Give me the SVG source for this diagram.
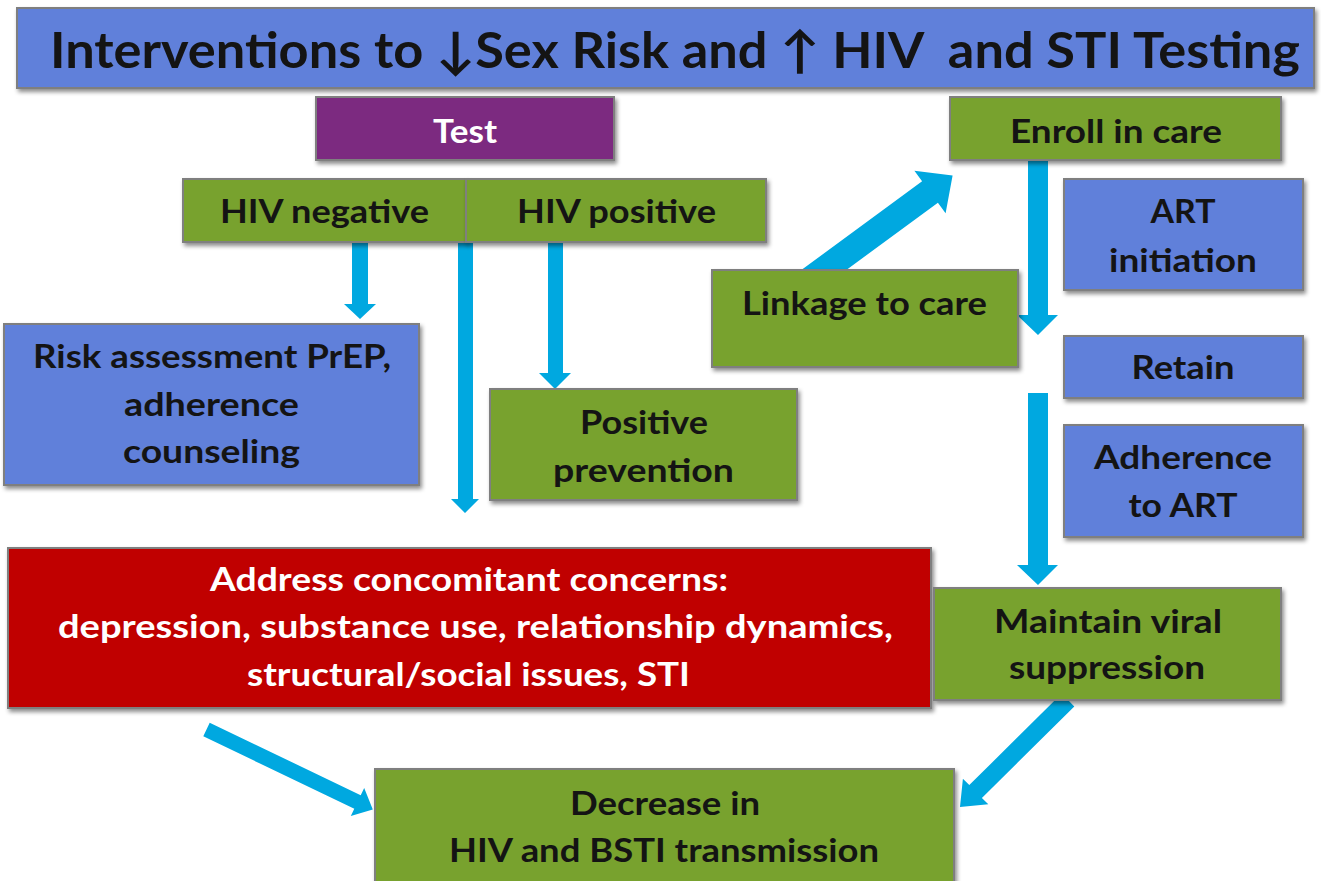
<svg xmlns="http://www.w3.org/2000/svg" width="1321" height="881" viewBox="0 0 1321 881">
<defs>
<filter id="sh" x="-5%" y="-5%" width="110%" height="120%">
<feDropShadow dx="2" dy="3" stdDeviation="2" flood-color="#000" flood-opacity="0.45"/>
</filter>
<style>
.box{stroke:#7F7F7F;stroke-width:2;filter:url(#sh)}
.blue{fill:#6180DA}
.green{fill:#78A22F}
.purple{fill:#7B2C80}
.red{fill:#C00000}
.t{font-family:Lato,"Noto Sans","Liberation Sans",sans-serif;font-weight:700;font-size:33px;fill:#141414;text-anchor:middle}
.w{fill:#FFFFFF}
.arr{fill:#00A8E0}
</style>
</defs>
<rect width="1321" height="881" fill="#FFFFFF"/>

<g id="connectors">
<polygon class="arr" points="352,242 368,242 368,304 376,304 360,319 344,304 352,304"/>
<polygon class="arr" points="458,242 473,242 473,499 479,499 465,513 451,499 458,499"/>
<polygon class="arr" points="548,242 563,242 563,373 571,373 555,389 539,373 548,373"/>
<polygon class="arr" points="1028,158 1048,158 1048,315 1058,315 1038,335 1017,315 1028,315"/>
<polygon class="arr" points="1028,393 1048,393 1048,565 1058,565 1038,585 1017,565 1028,565"/>
<polygon class="arr" points="788.7,279.3 922.1,181.3 914.4,170.7 952.6,175.4 945.6,213.3 937.9,202.7 804.5,300.7"/>
<polygon class="arr" points="209.7,722.7 360.7,795.2 364.2,788 372.8,809.4 350.8,816 354.3,808.8 203.3,736.3"/>
<polygon class="arr" points="1074.3,706.4 981.9,797.9 988.3,804.3 960,807 962.9,778.7 969.3,785.1 1061.7,693.6"/>
</g>

<g id="title">
<rect class="box blue" x="17" y="8" width="1297" height="80"/>
<text class="t" x="50" y="68" style="font-size:50px;text-anchor:start" textLength="1250" lengthAdjust="spacingAndGlyphs" xml:space="preserve">Interventions to ↓Sex Risk and ↑ HIV  and STI Testing</text>
</g>

<g id="test">
<rect class="box purple" x="316" y="97" width="298" height="63"/>
<text class="t w" x="465" y="143" textLength="64" lengthAdjust="spacingAndGlyphs">Test</text>
</g>

<g id="hiv-negative">
<rect class="box green" x="183" y="179" width="283" height="63"/>
<text class="t" x="324.5" y="223" textLength="209" lengthAdjust="spacingAndGlyphs">HIV negative</text>
</g>

<g id="hiv-positive">
<rect class="box green" x="466" y="179" width="300" height="63"/>
<text class="t" x="616.5" y="223" textLength="199" lengthAdjust="spacingAndGlyphs">HIV positive</text>
</g>

<g id="enroll">
<rect class="box green" x="950" y="97" width="331" height="63"/>
<text class="t" x="1116" y="143" textLength="212" lengthAdjust="spacingAndGlyphs">Enroll in care</text>
</g>

<g id="art-initiation">
<rect class="box blue" x="1064" y="179" width="239" height="111"/>
<text class="t" x="1183" y="223" textLength="65" lengthAdjust="spacingAndGlyphs">ART</text>
<text class="t" x="1183" y="272" textLength="148" lengthAdjust="spacingAndGlyphs">initiation</text>
</g>

<g id="linkage">
<rect class="box green" x="712" y="270" width="306" height="97"/>
<text class="t" x="864.5" y="315" textLength="245" lengthAdjust="spacingAndGlyphs">Linkage to care</text>
</g>

<g id="retain">
<rect class="box blue" x="1064" y="336" width="239" height="62"/>
<text class="t" x="1183" y="379" textLength="103" lengthAdjust="spacingAndGlyphs">Retain</text>
</g>

<g id="risk-assessment">
<rect class="box blue" x="4" y="324" width="415" height="161"/>
<text class="t" x="212" y="368" textLength="358" lengthAdjust="spacingAndGlyphs">Risk assessment PrEP,</text>
<text class="t" x="211.5" y="416" textLength="175" lengthAdjust="spacingAndGlyphs">adherence</text>
<text class="t" x="211.5" y="463" textLength="177" lengthAdjust="spacingAndGlyphs">counseling</text>
</g>

<g id="positive-prevention">
<rect class="box green" x="490" y="389" width="307" height="111"/>
<text class="t" x="644" y="434" textLength="128" lengthAdjust="spacingAndGlyphs">Positive</text>
<text class="t" x="643.5" y="482" textLength="181" lengthAdjust="spacingAndGlyphs">prevention</text>
</g>

<g id="adherence-art">
<rect class="box blue" x="1064" y="425" width="239" height="112"/>
<text class="t" x="1183" y="469" textLength="178" lengthAdjust="spacingAndGlyphs">Adherence</text>
<text class="t" x="1183" y="517" textLength="109" lengthAdjust="spacingAndGlyphs">to ART</text>
</g>

<g id="concomitant">
<rect class="box red" x="8" y="548" width="923" height="160"/>
<text class="t w" x="469" y="591" textLength="518" lengthAdjust="spacingAndGlyphs">Address concomitant concerns:</text>
<text class="t w" x="475.5" y="638" textLength="835" lengthAdjust="spacingAndGlyphs">depression, substance use, relationship dynamics,</text>
<text class="t w" x="468.5" y="686" textLength="443" lengthAdjust="spacingAndGlyphs">structural/social issues, STI</text>
</g>

<g id="viral-suppression">
<rect class="box green" x="934" y="588" width="347" height="112"/>
<text class="t" x="1108" y="633" textLength="228" lengthAdjust="spacingAndGlyphs">Maintain viral</text>
<text class="t" x="1107" y="679" textLength="196" lengthAdjust="spacingAndGlyphs">suppression</text>
</g>

<g id="decrease">
<rect class="box green" x="375" y="769" width="579" height="130"/>
<text class="t" x="665" y="815" textLength="190" lengthAdjust="spacingAndGlyphs">Decrease in</text>
<text class="t" x="664" y="862" textLength="430" lengthAdjust="spacingAndGlyphs">HIV and BSTI transmission</text>
</g>
</svg>
